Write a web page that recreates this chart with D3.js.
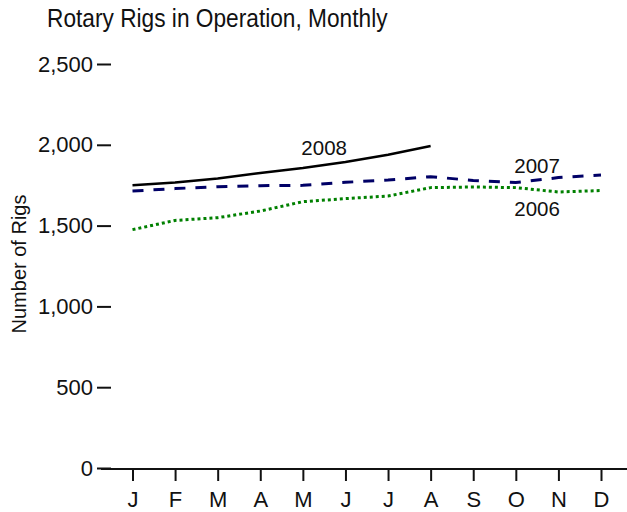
<!DOCTYPE html>
<html>
<head>
<meta charset="utf-8">
<script src="https://cdn.jsdelivr.net/npm/d3@7"></script>
<style>
  body { margin: 0; background: #fff; }
  svg { font-family: "Liberation Sans", Arial, sans-serif; }
</style>
</head>
<body>
<svg id="chart" width="627" height="512"></svg>
<script>
// monthly rotary rig counts
var months = ["J", "F", "M", "A", "M", "J", "J", "A", "S", "O", "N", "D"];
var rigs2006 = [1475, 1532, 1549, 1590, 1648, 1667, 1683, 1735, 1739, 1735, 1708, 1717];
var rigs2007 = [1714, 1729, 1741, 1747, 1749, 1768, 1782, 1803, 1779, 1766, 1797, 1813];
var rigs2008 = [1750, 1766, 1791, 1826, 1857, 1894, 1938, 1993];
var yTicks = [0, 500, 1000, 1500, 2000, 2500];

// series labels sit between two months
var labelText = ["2008", "2007", "2006"];
var labelMonth = [4.5, 9.5, 9.5];
var labelValue = [1937, 1825, 1559];

var svg = d3.select("#chart");

var x = d3.scaleLinear().domain([0, 11]).range([132.5, 601]);
var y = d3.scaleLinear().domain([0, 2500]).range([468, 64]);

svg.append("text")
  .attr("transform", "translate(47,27) scale(1,1.12)")
  .attr("font-size", 22.7)
  .attr("fill", "#111")
  .text("Rotary Rigs in Operation, Monthly");

// y axis - ticks only, no spine
var yAxis = svg.append("g")
  .attr("transform", "translate(111,0)")
  .call(d3.axisLeft(y).tickValues(yTicks).tickSize(14).tickPadding(4).tickFormat(d3.format(",")));
yAxis.select(".domain").remove();
yAxis.selectAll("line").attr("stroke", "#111").attr("stroke-width", 2);
yAxis.selectAll("text").attr("font-size", 22).attr("fill", "#111").attr("font-family", null);

svg.append("text")
  .attr("transform", "translate(26,264) rotate(-90)")
  .attr("text-anchor", "middle")
  .attr("font-size", 20)
  .attr("fill", "#111")
  .text("Number of Rigs");

// x axis
var xAxis = svg.append("g")
  .attr("transform", "translate(0,469)")
  .call(d3.axisBottom(x).tickValues(d3.range(12)).tickSize(12).tickPadding(10)
    .tickFormat(function(i) { return months[i]; }));
xAxis.select(".domain").remove();
xAxis.selectAll("line").attr("stroke", "#111").attr("stroke-width", 2);
xAxis.selectAll("text").attr("font-size", 22).attr("fill", "#111").attr("font-family", null);
xAxis.append("line")
  .attr("x1", 101).attr("x2", 627)
  .attr("stroke", "#111").attr("stroke-width", 2);

var line = d3.line()
  .x(function(d, i) { return x(i); })
  .y(function(d) { return y(d); });

svg.append("path").datum(rigs2006)
  .attr("fill", "none").attr("stroke", "#008000")
  .attr("stroke-width", 3).attr("stroke-dasharray", "3,3")
  .attr("d", line);

svg.append("path").datum(rigs2007)
  .attr("fill", "none").attr("stroke", "#000066")
  .attr("stroke-width", 3).attr("stroke-dasharray", "11,10")
  .attr("d", line);

svg.append("path").datum(rigs2008)
  .attr("fill", "none").attr("stroke", "#000")
  .attr("stroke-width", 2.5)
  .attr("d", line);

svg.selectAll(".series-label")
  .data(labelText)
  .enter().append("text")
  .attr("class", "series-label")
  .attr("x", function(d, i) { return x(labelMonth[i]); })
  .attr("y", function(d, i) { return y(labelValue[i]); })
  .attr("text-anchor", "middle")
  .attr("font-size", 20.5)
  .attr("fill", "#111")
  .text(function(d) { return d; });
</script>
</body>
</html>
